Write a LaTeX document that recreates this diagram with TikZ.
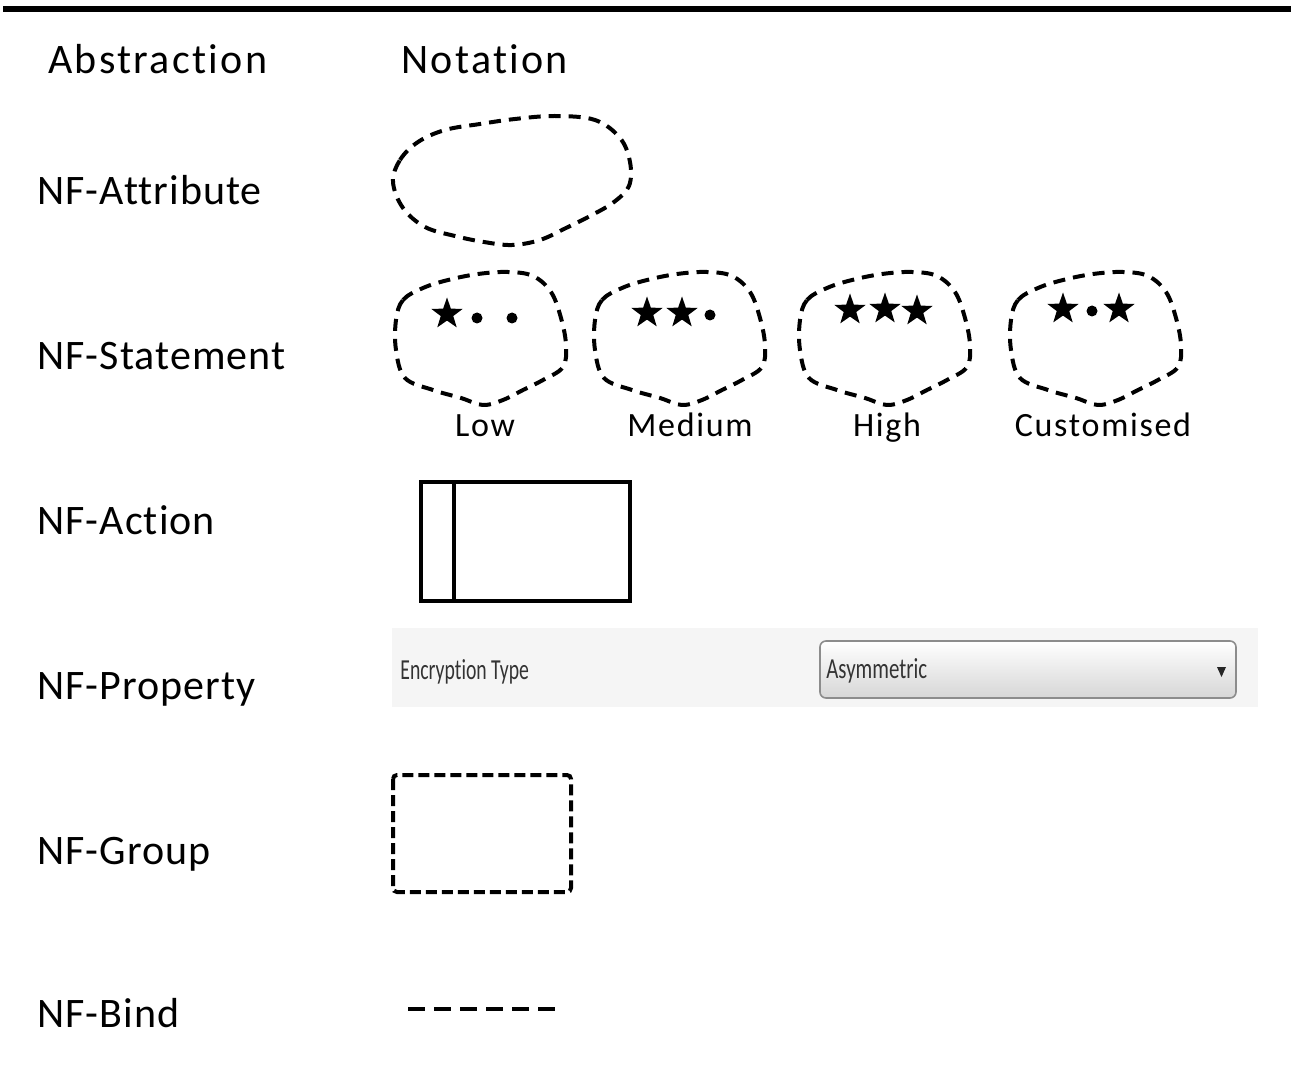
\documentclass[tikz,border=0pt]{standalone}
\usepackage{fontspec}
\setmainfont[LetterSpace=2.5,Ligatures={NoCommon,NoRequired}]{Carlito}
\newfontfamily\headfont[LetterSpace=5.5,Ligatures={NoCommon,NoRequired}]{Carlito}
\newfontfamily\levelfont[LetterSpace=5,Ligatures={NoCommon,NoRequired}]{Carlito}
\newfontfamily\widgetfont[Ligatures={NoCommon,NoRequired}]{Carlito}
\usetikzlibrary{shapes.geometric}
\begin{document}
\begin{tikzpicture}[x=0.5pt,y=-0.5pt,
  label/.style={anchor=base west,inner sep=0pt,font=\fontsize{21}{25}\selectfont},
  head/.style={anchor=base west,inner sep=0pt,font=\headfont\fontsize{21}{25}\selectfont},
  level/.style={anchor=base,inner sep=0pt,font=\levelfont\fontsize{17}{20}\selectfont},
  cloudline/.style={line width=2pt,dash pattern=on 6pt off 4pt,line join=round},
  starmark/.style={star,star points=5,star point ratio=2.5,fill=black,inner sep=0pt,minimum size=16.5pt},
  dotmark/.style={circle,fill=black,inner sep=0pt,minimum size=5.5pt},
  grouprect/.style={line width=2pt,dash pattern=on 5.5pt off 2.5pt,rounded corners=2pt},
  bindline/.style={line width=2pt,dash pattern=on 8.5pt off 4.5pt},
  widgettext/.style={anchor=west,inner sep=0pt,text=black!80}]
\useasboundingbox (0,0) rectangle (1291,1091);
% heading rule
\draw[line width=2.6pt] (3,9) -- (1291,9);

% column heads
\node[head] (hAbs) at (48,74) {Abstraction};
\node[head] (hNot) at (401,74) {Notation};

% row labels
\node[label] (lAttr) at (37,205) {NF-Attribute};
\node[label] (lStat) at (37,370) {NF-Statement};
\node[label] (lAct)  at (37,534) {NF-Action};
\node[label] (lProp) at (37,699) {NF-Property};
\node[label] (lGrp)  at (37,864) {NF-Group};
\node[label] (lBind) at (37,1027) {NF-Bind};

% attribute cloud
\draw[cloudline] plot[smooth cycle,tension=0.6] coordinates {
  (393,182) (400,160) (418,142) (445,130) (480,124) (515,119) (555,116)
  (595,120) (620,138) (630,162) (629,186) (614,202) (592,215) (566,228)
  (540,240) (512,245) (484,242) (455,236) (425,227) (403,208)};

% statement clouds
\foreach \cx/\nm in {393/low,592/med,797/high,1008/cust}{
  \begin{scope}[shift={(\cx,270)}]
    \draw[cloudline] plot[smooth cycle,tension=0.6] coordinates {
      (3,50) (10,30) (30,18) (55,10) (85,4) (115,2) (140,6) (158,22)
      (168,48) (173,75) (170,97) (150,110) (130,120) (110,130) (90,135)
      (68,128) (40,120) (12,108) (3,80)};
  \end{scope}
}
% rating marks
\node[starmark] (lowS1) at (447,314) {};
\node[dotmark]  (lowD1) at (477,318) {};
\node[dotmark]  (lowD2) at (512,318) {};
\node[starmark] (medS1) at (647,313) {};
\node[starmark] (medS2) at (682,313) {};
\node[dotmark]  (medD1) at (710,315) {};
\node[starmark] (higS1) at (850,310) {};
\node[starmark] (higS2) at (885,309) {};
\node[starmark] (higS3) at (917,311) {};
\node[starmark] (cusS1) at (1063,309) {};
\node[dotmark]  (cusD1) at (1092,311) {};
\node[starmark] (cusS2) at (1119,309) {};

\node[level] (tLow)  at (485,437) {Low};
\node[level] (tMed)  at (690,437) {Medium};
\node[level] (tHigh) at (887,437) {High};
\node[level] (tCust) at (1103,437) {Customised};

% action box
\draw[line width=2pt] (421,482) rectangle (630,601);
\draw[line width=2pt] (454,482) -- (454,601);

% property widget
\fill[black!4] (392,628) rectangle (1258,707);
\node[widgettext] (pName) at (400,672)
  {\scalebox{0.68}[1]{\widgetfont\fontsize{14.5}{16}\selectfont Encryption Type}};
\shade[top color=white,bottom color=black!16,rounded corners=3pt,draw=black!45,line width=0.8pt]
  (820,641) rectangle (1236,698);
\node[widgettext] (pVal) at (826,671)
  {\scalebox{0.72}[1]{\widgetfont\fontsize{14.5}{16}\selectfont Asymmetric}};
\fill[black!85] (1217,667) -- (1226,667) -- (1221.5,677) -- cycle;

% group box
\draw[grouprect] (393,775) rectangle (571,892);

% bind line
\draw[bindline] (408,1009) -- (558,1009);
\end{tikzpicture}
\end{document}
